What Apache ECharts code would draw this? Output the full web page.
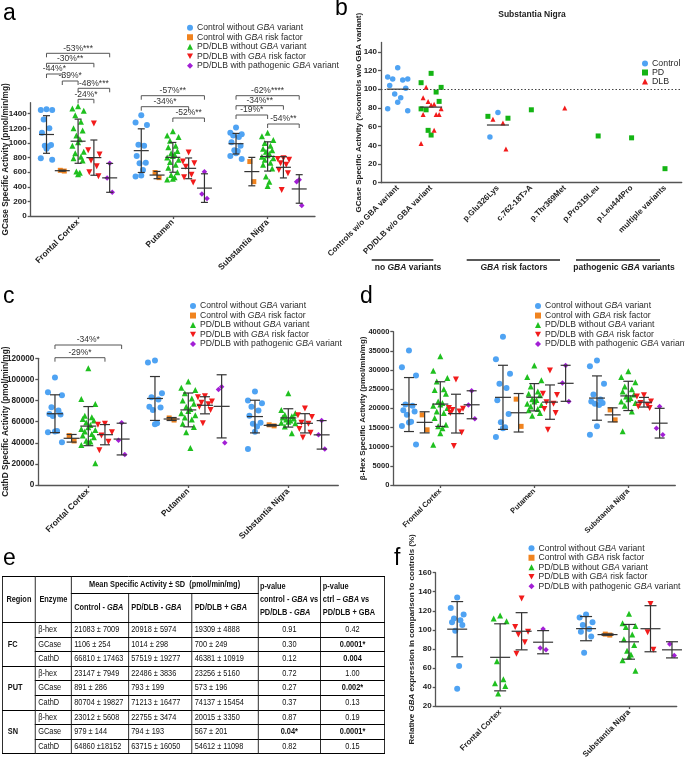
<!DOCTYPE html>
<html><head><meta charset="utf-8">
<script src="https://cdn.jsdelivr.net/npm/echarts@6.0.0/dist/echarts.min.js"></script>
<style>
html,body{margin:0;padding:0;background:#fff;width:685px;height:759px;overflow:hidden;}
#chart{position:absolute;left:0;top:0;width:685px;height:759px;}
#tbl{position:absolute;left:2px;top:576px;width:466px;height:178px;border-collapse:collapse;table-layout:fixed;
 transform:scaleX(0.82);transform-origin:0 0;
 font-family:"Liberation Sans",Arial,sans-serif;font-size:9px;color:#111;}
#tbl td,#tbl th{border:1px solid #000;padding:0 3px;line-height:1.05;white-space:nowrap;overflow:hidden;}
#tbl th{font-weight:bold;}
#tbl .h1{height:16px;text-align:center;}
#tbl .h2{height:28px;text-align:left;vertical-align:middle;}
#tbl .pv{text-align:left;line-height:13px;vertical-align:middle;padding-left:2px;}
#tbl .rg{text-align:left;font-weight:bold;padding-left:6px;}
#tbl .num{text-align:left;}
#tbl .pc{text-align:center;}
#tbl tr.d td{height:13.6px;}
</style></head><body>
<div id="chart"></div>
<table id="tbl"></table>
<script>
// ---------------- DATA ----------------
const regions = ['Frontal Cortex', 'Putamen', 'Substantia Nigra'];
const groupNames = ['Control without GBA variant', 'Control with GBA risk factor', 'PD/DLB without GBA variant',
  'PD/DLB with GBA risk factor', 'PD/DLB with pathogenic GBA variant'];

// Panel a: GCase specific activity (pmol/min/mg); one list per region (FC, PUT, SN)
const gcaseCtrl = [[1460,1450,1450,1320,1200,1140,970,960,950,920,790,770],
  [1380,1280,1245,975,960,820,730,720,630,555,540],
  [1210,1140,1120,1100,1080,1010,960,900,890,860,820,780]];
const gcaseCtrlRisk = [[625,615],[595,525],[745,470]];
const gcasePD = [[1500,1470,1440,1380,1290,1200,1170,1100,1050,1010,960,880,860,810,790,760,610,590,570],
  [1160,1100,1080,1030,960,940,890,860,840,820,800,770,740,700,660,600,560,530,510,500],
  [1140,1090,1040,1000,960,920,900,880,850,830,810,790,770,730,700,650,540,470,410]];
const gcasePDRisk = [[1265,900,840,760,680,600,545],[870,745,720,675,565,530,460],[790,780,770,720,700,630,585,355]];
const gcasePDPath = [[720,520,325],[605,300,240],[495,470,145]];
// comparisons: [region, fromGroup, toGroup, label]
const gcaseComparisons = [[0,0,4,'-53%***'],[0,0,3,'-30%**'],[0,0,1,'-44%*'],[0,1,2,'-39%*'],[0,2,4,'-48%***'],[0,2,3,'-24%*'],
  [1,0,4,'-57%**'],[1,0,3,'-34%*'],[1,2,4,'-52%**'],
  [2,0,4,'-62%****'],[2,0,3,'-34%**'],[2,0,2,'-19%*'],[2,2,4,'-54%**']];

// Panel b: SN GCase activity, % of controls w/o GBA variant
const bCategories = ['Controls w/o GBA variant','PD/DLB w/o GBA variant','','p.Glu326Lys','c.762-18T>A','p.Thr369Met','p.Pro319Leu','p.Leu444Pro','multiple variants'];
const bControl = [[123,113,111,111,110,104,101,95,91,86,79,77],[],[],[75,49],[],[],[],[],[]];
const bPD = [[],[117,107,102,97,87,78,79,56,51],[],[69,71],[78],[],[50],[48],[15]];
const bDLB = [[],[102,91,87,84,83,79,73,73,73,56,42],[],[64,68,36],[],[80],[],[],[]];
const bReference = 100;

// Panel c: CathD specific activity
const cathdCtrl = [[101700,87800,85000,73600,70500,67300,66700,65400,51200,50600,50000,40400],
  [118000,116000,87000,83000,81000,74000,73500,71000,58500,57500],
  [88500,80000,77500,74000,70500,65500,59000,58000,55500,50500,34000]];
const cathdCtrlRisk = [[46800,41700],[63500,61500],[57000,56000]];
const cathdPD = [[110600,81500,76800,65700,64100,62600,61000,59100,56900,54700,53100,52100,50600,48300,46800,45200,42000,41100,40400,38000,20500],
  [98000,92000,90000,87000,82000,80000,77000,74000,72000,70000,68000,66000,64000,62000,58000,55000,50000,35000],
  [87000,71000,68000,66500,65000,64000,63000,62000,61000,60000,59000,58500,55500,49000]];
const cathdPDRisk = [[58000,57000,50000,47000,41000,33000],[84000,83000,79000,78000,76500,74000,71000,58500],[72500,66000,64500,59000,58000,53000,49500,45000]];
const cathdPDPath = [[59000,42500,29000],[93000,90500,40000],[61000,47500,34000]];
const cathdComparisons = [[0,0,4,'-34%*'],[0,0,3,'-29%*']];

// Panel d: beta-Hex specific activity
const hexCtrl = [[35100,30700,28600,21000,20700,19500,19200,18300,16500,16300,15400,10600],
  [38700,32800,29000,26400,25300,22100,18500,16400,15100,14800,12500],
  [32500,31000,26400,23600,22300,21800,21400,21200,20900,15300,13100]];
const hexCtrlRisk = [[18300,14400],[22400,15300],[19600,17000]];
const hexPD = [[33600,29800,27900,27000,25000,24800,23800,21800,21400,21000,20700,20100,19200,18800,17500,15700,15300,14800,13500,10500],
  [31200,28200,27300,25700,24400,23800,23400,22400,22200,21800,21200,20900,20500,19800,19500,18800,18100],
  [29700,28200,26800,25700,25000,24400,23600,23100,22700,22400,21800,21400,20700,19200,14000]];
const hexPDRisk = [[27500,20100,19900,19600,19200,18800,13700,10200],[29900,23800,23500,21600,21200,19800,18800,14400],[23400,23100,21800,21400,20900,20500,20100]];
const hexPDPath = [[24600,20900,17300],[31200,26600,21800],[20500,14800,13100]];

// Panel f: relative GBA expression (% of controls); regions FC, SN
const fRegions = ['Frontal Cortex','Substantia Nigra'];
const gbaCtrl = [[134,123,116,112,110,108,105,99,62,38],[116,113,108,105,101,98,93,76]];
const gbaCtrlRisk = [[],[95.5,94.5]];
const gbaPD = [[115,112,109,67,48,44,41,33],[117,107,104,103,95,90,84,78,74,72,68,57]];
const gbaPDRisk = [[133,103,98,95,87,75],[127,97.5,79]];
const gbaPDPath = [[101,81,79],[85,73]];

// Panel e: table
const tblRegions = ['FC','PUT','SN'];
const tblEnzymes = ['β-hex','GCase','CathD'];
const tblControl = ['21083 ± 7009','1106 ± 254','66810 ± 17463','23147 ± 7949','891 ± 286','80704 ± 19827','23012 ± 5608','979 ± 144','64860 ±18152'];
const tblPD = ['20918 ± 5974','1014 ± 298','57519 ± 19277','22486 ± 3836','793 ± 199','71213 ± 16477','22755 ± 3474','794 ± 193','63715 ± 16050'];
const tblPDGBA = ['19309 ± 4888','700 ± 249','46381 ± 10919','23256 ± 5160','573 ± 196','74137 ± 15454','20015 ± 3350','567 ± 201','54612 ± 11098'];
const tblP1 = ['0.91','0.30','0.12','0.72','0.27','0.37','0.87','0.04*','0.82'];
const tblP2 = ['0.42','0.0001*','0.004','1.00','0.002*','0.13','0.19','0.0001*','0.15'];

// ---------------- HELPERS ----------------
const FONT = '"Liberation Sans", Arial, sans-serif';
const COLORS = ['#4fa3f3','#f0831f','#1fc01f','#f21b1b','#a21fd5'];
const SYMBOLS = ['circle','rect','triangle','path://M0,0L10,0L5,9Z','diamond'];
const SIZES = [6,5,6,6,5.5];
const OFFS = [-1/3,-1/6,0,1/6,1/3];
const PATTERN = [0,-1,1,-0.5,0.5,-0.8,0.8,-0.3,0.3];
function pattern(n, r){ if(n===2) return r===0?-0.35:0.35; if(n===3) return [0,-0.45,0.45][r]; return PATTERN[r%PATTERN.length]; }
function spread(vals, center, w){
  const idx = vals.map((v,i)=>i).sort((a,b)=>vals[b]-vals[a]);
  const out = new Array(vals.length);
  idx.forEach((k,r)=>{ out[k] = [center + pattern(vals.length,r)*w, vals[k]]; });
  return out;
}
const mean = a => a.reduce((s,v)=>s+v,0)/a.length;
const sd = a => { const m = mean(a); return Math.sqrt(a.reduce((s,v)=>s+(v-m)*(v-m),0)/(a.length-1)); };
function italGBA(s){ return s.replace('GBA','{i|GBA}'); }

function errRender(hw, cw){
  return function(params, api){
    const x = api.value(0), m = api.value(1), s = api.value(2);
    const c = api.coord([x,m]), t = api.coord([x,m+s]), b = api.coord([x,m-s]);
    const st = {stroke:'#333', lineWidth:1.2};
    return {type:'group', children:[
      {type:'line', shape:{x1:c[0],y1:t[1],x2:c[0],y2:b[1]}, style:st},
      {type:'line', shape:{x1:c[0]-hw,y1:c[1],x2:c[0]+hw,y2:c[1]}, style:st},
      {type:'line', shape:{x1:c[0]-cw,y1:t[1],x2:c[0]+cw,y2:t[1]}, style:st},
      {type:'line', shape:{x1:c[0]-cw,y1:b[1],x2:c[0]+cw,y2:b[1]}, style:st}
    ]};
  };
}
function bracketSeries(axisIdx, comps, ys){
  return {type:'custom', xAxisIndex:axisIdx, yAxisIndex:axisIdx, clip:false, silent:true, z:5,
    encode:{x:[0,1]},
    data: comps.map(c=>[c[0]+1+OFFS[c[1]], c[0]+1+OFFS[c[2]]]),
    renderItem:(params, api)=>{
      const x1 = api.coord([api.value(0),0])[0], x2 = api.coord([api.value(1),0])[0];
      const y = ys[params.dataIndex];
      return {type:'group', children:[
        {type:'polyline', shape:{points:[[x1,y+4],[x1,y],[x2,y],[x2,y+4]]}, style:{stroke:'#555', lineWidth:1, fill:null}},
        {type:'text', style:{text:comps[params.dataIndex][3], x:(x1+x2)/2, y:y-0.5, align:'center', verticalAlign:'bottom',
          fontSize:8.5, fill:'#333', fontFamily:FONT}}
      ]};
    }};
}

const axisLineStyle = {color:'#555', width:1.3};
function catXAxis(grid, names, min, max, fs){
  const vals = names.map((n,i)=>i+1);
  return {gridIndex:grid, type:'value', min:min, max:max,
    axisLine:{show:true, onZero:false, lineStyle:axisLineStyle},
    axisTick:{show:true, customValues:vals, length:3, lineStyle:axisLineStyle},
    axisLabel:{customValues:vals, formatter:v=>names[Math.round(v)-1]||'', rotate:45, fontSize:fs, fontWeight:'bold', color:'#222', fontFamily:FONT, margin:5},
    splitLine:{show:false}};
}
function valYAxis(grid, min, max, step, labMax, name, gap, fs, nfs){
  const vals=[]; for(let v=min; v<=labMax+1e-9; v+=step) vals.push(v);
  return {gridIndex:grid, type:'value', min:min, max:max,
    axisLine:{show:true, onZero:false, lineStyle:axisLineStyle},
    axisTick:{show:true, customValues:vals, length:3, lineStyle:axisLineStyle},
    axisLabel:{customValues:vals, formatter:v=>String(v), fontSize:fs, fontWeight:'bold', color:'#222', fontFamily:FONT, margin:4},
    splitLine:{show:false},
    name:name, nameLocation:'middle', nameGap:gap, nameMoveOverlap:false,
    nameTextStyle:{fontSize:nfs, fontWeight:'bold', color:'#222', fontFamily:FONT,
      rich:{i:{fontStyle:'italic', fontWeight:'bold', fontSize:nfs, color:'#222', fontFamily:FONT}}}};
}

// ---------------- GRIDS / AXES ----------------
const grids = [
  {left:30.7, top:102.7, width:284.3, height:113.3},   // a
  {left:381, top:42.5, width:300.7, height:140.2},     // b
  {left:38.3, top:358.3, width:300, height:126.7},     // c
  {left:393.3, top:331.7, width:282, height:153.3},    // d
  {left:435.7, top:572.7, width:241, height:133.3}     // f
].map(g=>Object.assign({outerBoundsMode:'none', containLabel:false}, g));

const xAxes = [
  catXAxis(0, regions, 0.5, 3.5, 8.5),
  {gridIndex:1, type:'value', min:-0.5, max:8.5,
    axisLine:{show:true, onZero:false, lineStyle:axisLineStyle},
    axisTick:{show:false},
    axisLabel:{customValues:[0,1,3,4,5,6,7,8], formatter:v=>bCategories[Math.round(v)], rotate:45, fontSize:8, fontWeight:'bold', color:'#222', fontFamily:FONT, margin:4},
    splitLine:{show:false}},
  catXAxis(2, regions, 0.5, 3.5, 8.5),
  catXAxis(3, regions, 0.5, 3.5, 7.5),
  catXAxis(4, fRegions, 0.5, 2.37, 8)
];
const yAxes = [
  valYAxis(0, 0, 1550, 200, 1400, 'GCase Specific Activity (pmol/min/mg)', 20.5, 8.1, 8.3),
  valYAxis(1, 0, 150, 20, 140, 'GCase Specific Activity (%controls w/o GBA variant)', 18, 8, 8),
  valYAxis(2, 0, 120000, 20000, 120000, 'CathD Specific Activity (pmol/min/mg)', 28.5, 8.2, 8.3),
  valYAxis(3, 0, 40000, 5000, 40000, 'β-Hex Specific Activity (pmol/min/mg)', 27, 7.5, 8),
  valYAxis(4, 20, 160, 20, 160, 'Relative {i|GBA} expression in comparison to controls (%)', 20, 8, 8)
];

// ---------------- SERIES ----------------
const series = [];
const panels = [
  {axis:0, data:[gcaseCtrl,gcaseCtrlRisk,gcasePD,gcasePDRisk,gcasePDPath], w:0.06, hw:7.5, cw:3.5},
  {axis:2, data:[cathdCtrl,cathdCtrlRisk,cathdPD,cathdPDRisk,cathdPDPath], w:0.07, hw:8, cw:5},
  {axis:3, data:[hexCtrl,hexCtrlRisk,hexPD,hexPDRisk,hexPDPath], w:0.075, hw:8, cw:5},
  {axis:4, data:[gbaCtrl,gbaCtrlRisk,gbaPD,gbaPDRisk,gbaPDPath], w:0.05, hw:10, cw:6}
];
panels.forEach(p=>{
  p.data.forEach((grp,g)=>{
    const pts=[];
    grp.forEach((vals,r)=>{ pts.push(...spread(vals, r+1+OFFS[g], p.w)); });
    series.push({type:'scatter', name:groupNames[g], xAxisIndex:p.axis, yAxisIndex:p.axis, data:pts,
      symbol:SYMBOLS[g], symbolSize:SIZES[g], itemStyle:{color:COLORS[g], opacity:1}, z:2, silent:true});
  });
  const eb=[];
  p.data.forEach((grp,g)=>grp.forEach((vals,r)=>{ if(vals.length>1) eb.push([r+1+OFFS[g], mean(vals), sd(vals)]); }));
  series.push({type:'custom', xAxisIndex:p.axis, yAxisIndex:p.axis, data:eb, renderItem:errRender(p.hw,p.cw), z:3, silent:true});
});
series.push(bracketSeries(0, gcaseComparisons, [53.3,63.3,74,81,88.3,99.3, 95.7,106.7,118, 95.7,105.7,115,124]));
series.push(bracketSeries(2, cathdComparisons, [345,357.7]));

// panel b
const bDefs = [['Control', bControl, 'circle', '#4fa3f3', 5.5], ['PD', bPD, 'rect', '#14b414', 5], ['DLB', bDLB, 'triangle', '#f21b1b', 5]];
const bPts = bDefs.map(()=>[]);
const bMeans = [];
bCategories.forEach((c,k)=>{
  const all=[];
  bDefs.forEach((d,s)=>d[1][k].forEach(v=>all.push([v,s])));
  const vals = all.map(a=>a[0]);
  const sp = spread(vals, k, 0.3);
  all.forEach((a,i)=>bPts[a[1]].push(sp[i]));
  if(all.length>1) bMeans.push([k, mean(vals)]);
});
bDefs.forEach((d,s)=>{
  const ser = {type:'scatter', name:d[0], xAxisIndex:1, yAxisIndex:1, data:bPts[s], symbol:d[2], symbolSize:d[4],
    itemStyle:{color:d[3], opacity:1}, z:2, silent:true};
  if(s===0) ser.markLine = {silent:true, symbol:'none', label:{show:false},
    lineStyle:{type:[1.5,2], color:'#444', width:1.2}, data:[{yAxis:bReference}]};
  series.push(ser);
});
series.push({type:'custom', xAxisIndex:1, yAxisIndex:1, data:bMeans, z:3, silent:true,
  renderItem:(params, api)=>{ const c = api.coord([api.value(0), api.value(1)]);
    return {type:'line', shape:{x1:c[0]-11,y1:c[1],x2:c[0]+11,y2:c[1]}, style:{stroke:'#333', lineWidth:1.2}}; }});

// ---------------- LEGENDS ----------------
function mkLegend(left, top, names, fs, lh){
  return {left:left, top:top, orient:'vertical', itemWidth:6, itemHeight:6, itemGap:0, data:names, selectedMode:false,
    formatter:italGBA,
    textStyle:{fontSize:fs, lineHeight:lh, color:'#2a2a2a', fontFamily:FONT, padding:[0,0,0,-1],
      rich:{i:{fontStyle:'italic', fontSize:fs, lineHeight:lh, color:'#2a2a2a', fontFamily:FONT}}}};
}
const legends = [
  mkLegend(182, 18, groupNames, 8.6, 9.5),
  mkLegend(637, 54, ['Control','PD','DLB'], 8.8, 8),
  mkLegend(185, 296.3, groupNames, 8.6, 9.5),
  mkLegend(530, 296.3, groupNames, 8.6, 9.5),
  mkLegend(523.5, 538.5, groupNames, 8.6, 9.5)
];

// ---------------- GRAPHICS ----------------
function letter(t,x,y){ return {type:'text', x:x, y:y, style:{text:t, fontSize:23, fill:'#000', fontFamily:FONT, verticalAlign:'middle'}}; }
const bold = {fontSize:8.5, fontWeight:'bold', fill:'#222', fontFamily:FONT, align:'center', verticalAlign:'middle'};
const richI = {i:{fontStyle:'italic', fontWeight:'bold', fontSize:8.5, fill:'#222', fontFamily:FONT}};
const graphics = [
  letter('a',3,13.5), letter('b',335,9), letter('c',3,297), letter('d',360,297), letter('e',3,559), letter('f',394,559),
  {type:'text', x:532, y:14.7, style:Object.assign({text:'Substantia Nigra'}, bold)},
  {type:'line', shape:{x1:371.7,y1:260,x2:433.3,y2:260}, style:{stroke:'#222', lineWidth:1.3}},
  {type:'line', shape:{x1:466.7,y1:260,x2:560,y2:260}, style:{stroke:'#222', lineWidth:1.3}},
  {type:'line', shape:{x1:576,y1:260,x2:660,y2:260}, style:{stroke:'#222', lineWidth:1.3}},
  {type:'text', x:408, y:268, style:Object.assign({text:'no {i|GBA} variants', rich:richI}, bold)},
  {type:'text', x:514, y:268, style:Object.assign({text:'{i|GBA} risk factors', rich:richI}, bold)},
  {type:'text', x:624, y:268, style:Object.assign({text:'pathogenic {i|GBA} variants', rich:richI}, bold)}
];

const chart = echarts.init(document.getElementById('chart'), null, {renderer:'canvas'});
chart.setOption({animation:false, backgroundColor:'#fff', textStyle:{fontFamily:FONT},
  grid:grids, xAxis:xAxes, yAxis:yAxes, series:series, legend:legends, graphic:graphics});

// ---------------- TABLE ----------------
(function(){
  const k = 1/0.82;
  const it = s => s.replace(/GBA/g,'<i>GBA</i>');
  const isSig = s => parseFloat(s) < 0.05;
  const cw = [33,36,57,63.5,66,63,63.5].map(w=>(w*k).toFixed(1));
  let h = '<colgroup>'+cw.map(w=>'<col style="width:'+w+'px">').join('')+'</colgroup>';
  h += '<tr><th rowspan="2" class="pc">Region</th><th rowspan="2" class="pc">Enzyme</th><th colspan="3" class="h1">Mean Specific Activity ± SD&nbsp; (pmol/min/mg)</th>'+
       '<th rowspan="2" class="pv">p-value<br>control - '+it('GBA')+' vs<br>PD/DLB - '+it('GBA')+'</th>'+
       '<th rowspan="2" class="pv">p-value<br>ctrl – '+it('GBA')+' vs<br>PD/DLB + GBA</th></tr>';
  h += '<tr><th class="h2">'+it('Control - GBA')+'</th><th class="h2">'+it('PD/DLB - GBA')+'</th><th class="h2">'+it('PD/DLB + GBA')+'</th></tr>';
  for(let i=0;i<9;i++){
    const r = Math.floor(i/3), e = i%3;
    h += '<tr class="d">';
    if(e===0) h += '<td rowspan="3" class="rg">'+tblRegions[r]+'</td>';
    h += '<td>'+tblEnzymes[e]+'</td><td class="num">'+tblControl[i]+'</td><td class="num">'+tblPD[i]+'</td><td class="num">'+tblPDGBA[i]+'</td>';
    h += '<td class="pc">'+(isSig(tblP1[i])?'<b>'+tblP1[i]+'</b>':tblP1[i])+'</td>';
    h += '<td class="pc">'+(isSig(tblP2[i])?'<b>'+tblP2[i]+'</b>':tblP2[i])+'</td></tr>';
  }
  document.getElementById('tbl').innerHTML = h;
})();
</script>
</body></html>
